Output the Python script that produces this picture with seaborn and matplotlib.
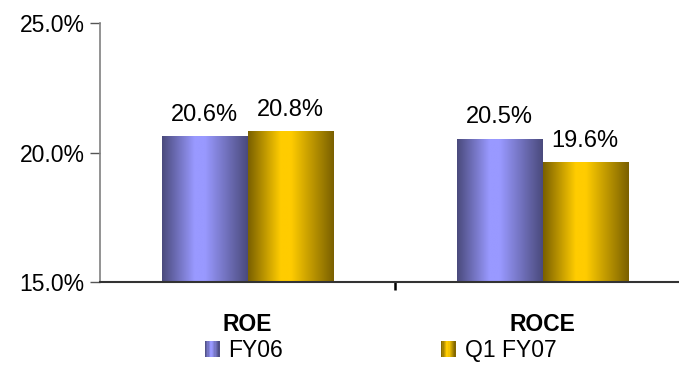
import numpy as np
import pandas as pd
import matplotlib
matplotlib.use("Agg")
import matplotlib.pyplot as plt
import seaborn as sns
from matplotlib.colors import LinearSegmentedColormap
from matplotlib.patches import Rectangle
from matplotlib.legend_handler import HandlerBase

# chart data
metrics = ["ROE", "ROCE"]
periods = ["FY06", "Q1 FY07"]
fy06 = [20.6, 20.5]
q1_fy07 = [20.8, 19.6]
y_ticks = [15.0, 20.0, 25.0]

df = pd.DataFrame({
    "metric": metrics * 2,
    "period": [periods[0]] * 2 + [periods[1]] * 2,
    "value": fy06 + q1_fy07,
})

# dark / light tones for the cylinder-like shading
shades = {
    "FY06": ("#4a4a7c", "#9999ff"),
    "Q1 FY07": ("#7a6000", "#ffcc00"),
}


def shade_cmap(dark, light):
    return LinearSegmentedColormap.from_list(
        "s", [(0.0, dark), (0.38, light), (0.5, light), (1.0, dark)])


sns.set_theme(style="white")
plt.rcParams["font.family"] = ["Liberation Sans", "DejaVu Sans"]
plt.rcParams["text.color"] = "black"
plt.rcParams["xtick.color"] = "black"
plt.rcParams["ytick.color"] = "black"

fs = 16.5

fig = plt.figure(figsize=(6.79, 3.68), dpi=100)
ax = fig.add_axes([100 / 679, 1 - 282 / 368, 590 / 679, 259 / 368])

sns.barplot(data=df, x="metric", y="value", hue="period", order=metrics,
            hue_order=periods, palette=[shades[p][1] for p in periods],
            width=0.58, legend=False, ax=ax)

# swap flat fill for a horizontal gradient
grad = np.linspace(0, 1, 256).reshape(1, -1)
for period, cont in zip(periods, ax.containers):
    cmap = shade_cmap(*shades[period])
    for bar in cont:
        x0, w, h = bar.get_x(), bar.get_width(), bar.get_height()
        bar.set_facecolor("none")
        bar.set_edgecolor("none")
        ax.imshow(grad, cmap=cmap, aspect="auto", extent=[x0, x0 + w, 15, h],
                  zorder=2, interpolation="bilinear")
    ax.bar_label(cont, labels=[f"{v:.1f}%" for v in cont.datavalues],
                 padding=8, fontsize=17, color="black")

ax.set_xlim(-0.5, 1.5)
ax.set_ylim(15, 25)

# axes styling
ax.set_yticks(y_ticks)
ax.set_yticklabels([f"{t:.1f}%" for t in y_ticks], fontsize=fs)
ax.tick_params(axis="y", direction="out", length=7, width=1, color="#555555",
               labelcolor="black", left=True, pad=4)
ax.set_xticks([0, 1])
ax.set_xticklabels(metrics, fontsize=fs, fontweight="bold")
ax.tick_params(axis="x", length=0, pad=22, labelcolor="black")
# separator tick between the two categories
ax.plot([0.5, 0.5], [0, -8 / 259], color="black", lw=1.8, clip_on=False,
        transform=ax.get_xaxis_transform(), solid_capstyle="butt")
ax.set_xlabel("")
ax.set_ylabel("")
for side in ["top", "right"]:
    ax.spines[side].set_visible(False)
ax.spines["left"].set_color("#808080")
ax.spines["left"].set_linewidth(1.2)
ax.spines["bottom"].set_color("#333333")
ax.spines["bottom"].set_linewidth(1.5)


class GradientHandler(HandlerBase):
    def __init__(self, cmap):
        super().__init__()
        self.cmap = cmap

    def create_artists(self, legend, orig_handle, xdescent, ydescent,
                       width, height, fontsize, trans):
        n = 12
        arts = []
        for i in range(n):
            r = Rectangle((-xdescent + width * i / n, -ydescent), width / n + 0.3,
                          height, facecolor=self.cmap((i + 0.5) / n),
                          edgecolor="none", transform=trans)
            arts.append(r)
        return arts


handles = [Rectangle((0, 0), 1, 1) for _ in periods]
handler_map = {h: GradientHandler(shade_cmap(*shades[p]))
               for h, p in zip(handles, periods)}
leg = fig.legend(handles, periods, handler_map=handler_map, loc="upper left",
                 bbox_to_anchor=(205 / 679, 1 - 339 / 368), ncol=2,
                 frameon=False, fontsize=fs, handlelength=0.62,
                 handleheight=0.75, handletextpad=0.4, columnspacing=6.9,
                 borderpad=0, borderaxespad=0)
for t in leg.get_texts():
    t.set_color("black")

fig.savefig("out.png", dpi=100)
